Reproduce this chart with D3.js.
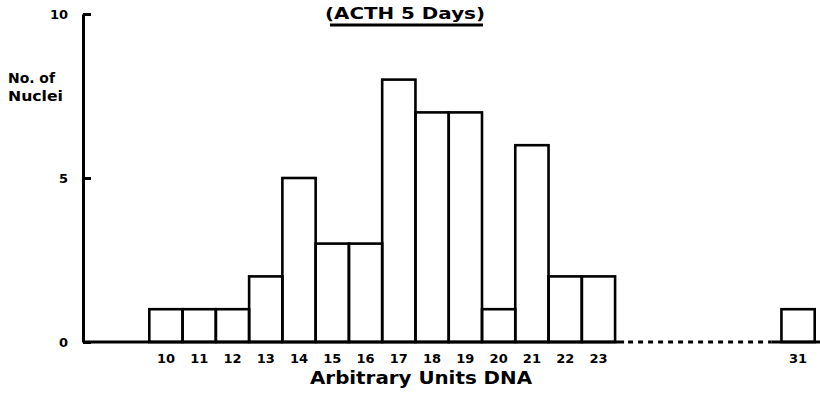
<!DOCTYPE html>
<html>
<head>
<meta charset="utf-8">
<script src="https://cdn.jsdelivr.net/npm/d3@7"></script>
<style>
  body { margin: 0; background: #fff; }
  svg { display: block; }
  text { font-family: "DejaVu Sans", sans-serif; font-weight: bold; fill: #000; }
</style>
</head>
<body>
<svg class="chart" width="820" height="396"></svg>
<script>
// data
var categories = ["10", "11", "12", "13", "14", "15", "16", "17", "18", "19", "20", "21", "22", "23", "31"];
var counts = [1, 1, 1, 2, 5, 3, 3, 8, 7, 7, 1, 6, 2, 2, 1];
var yTicks = [0, 5, 10];
var gapSlots = 5; // empty slots where the axis is broken before 31

var svg = d3.select(".chart");

// the last category sits after the break
function slotOf(i) { return i < categories.length - 1 ? i : i + gapSlots; }
var nSlots = categories.length + gapSlots;

var x = d3.scaleBand()
  .domain(d3.range(nSlots))
  .range([149.3, 814.7])
  .padding(0);

var y = d3.scaleLinear()
  .domain([0, 10])
  .range([342, 14]);

var axisX = 83;

// bars
svg.append("g").selectAll("rect")
  .data(counts)
  .enter().append("rect")
    .attr("x", function(d, i) { return x(slotOf(i)); })
    .attr("y", function(d) { return y(d); })
    .attr("width", x.bandwidth())
    .attr("height", function(d) { return y(0) - y(d); })
    .attr("fill", "none")
    .attr("stroke", "#000")
    .attr("stroke-width", 2.6);

// baseline: solid, dotted across the break, solid again
var lastMain = x(categories.length - 2) + x.bandwidth();
var breakEnd = x(nSlots - 1) - 10;
var base = svg.append("g").attr("stroke", "#000");
base.append("line")
  .attr("x1", axisX).attr("x2", lastMain + 9)
  .attr("y1", y(0)).attr("y2", y(0))
  .attr("stroke-width", 3);
base.append("line")
  .attr("x1", lastMain + 13).attr("x2", breakEnd)
  .attr("y1", y(0)).attr("y2", y(0))
  .attr("stroke-width", 3)
  .attr("stroke-dasharray", "5,5");
base.append("line")
  .attr("x1", breakEnd).attr("x2", 820)
  .attr("y1", y(0)).attr("y2", y(0))
  .attr("stroke-width", 3);

// y axis, ticks pointing inward
var yAxis = svg.append("g")
  .attr("transform", "translate(" + axisX + ",0)")
  .call(d3.axisLeft(y).tickValues(yTicks).tickSizeInner(-8).tickSizeOuter(0).tickPadding(15));
yAxis.select(".domain").attr("stroke-width", 3);
yAxis.selectAll(".tick line").attr("stroke-width", 3);
yAxis.selectAll(".tick text")
  .style("font-size", "13px");

// x tick labels
var xAxis = svg.append("g")
  .attr("transform", "translate(0," + y(0) + ")")
  .call(d3.axisBottom(x)
    .tickValues(categories.map(function(c, i) { return slotOf(i); }))
    .tickFormat(function(s) { return categories[s < categories.length - 1 ? s : s - gapSlots]; })
    .tickSize(0).tickPadding(12));
xAxis.select(".domain").remove();
xAxis.selectAll(".tick text").style("font-size", "13px");

// axis titles
svg.append("text")
  .attr("x", 421).attr("y", 384)
  .attr("text-anchor", "middle")
  .style("font-size", "17px")
  .attr("textLength", 222)
  .attr("lengthAdjust", "spacingAndGlyphs")
  .text("Arbitrary Units DNA");

var yLab = svg.append("text").style("font-size", "14px");
yLab.append("tspan").attr("x", 8).attr("y", 83)
  .attr("textLength", 47).attr("lengthAdjust", "spacingAndGlyphs").text("No. of");
yLab.append("tspan").attr("x", 8).attr("y", 101)
  .attr("textLength", 55).attr("lengthAdjust", "spacingAndGlyphs").text("Nuclei");

// title with underline
svg.append("text")
  .attr("x", 405).attr("y", 19)
  .attr("text-anchor", "middle")
  .style("font-size", "16px")
  .attr("textLength", 160)
  .attr("lengthAdjust", "spacingAndGlyphs")
  .text("(ACTH 5 Days)");
svg.append("line")
  .attr("x1", 330).attr("x2", 483)
  .attr("y1", 25).attr("y2", 25)
  .attr("stroke", "#000")
  .attr("stroke-width", 3);
</script>
</body>
</html>
